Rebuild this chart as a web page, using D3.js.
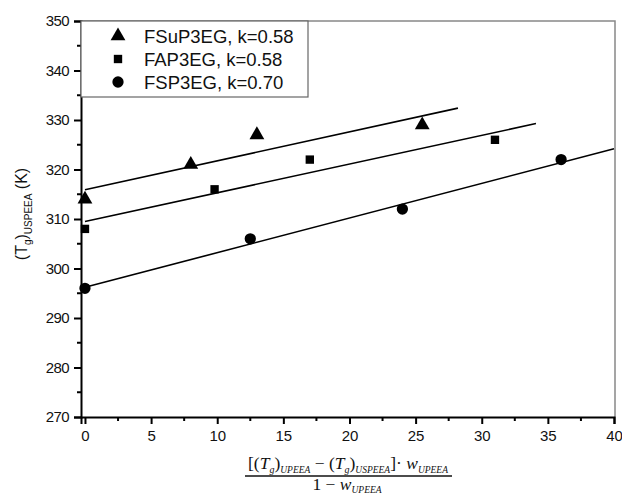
<!DOCTYPE html>
<html>
<head>
<meta charset="utf-8">
<script src="https://cdn.jsdelivr.net/npm/d3@7"></script>
<style>
  html, body { margin: 0; padding: 0; background: #fff; }
  svg { display: block; }
</style>
</head>
<body>
<svg id="chart" width="622" height="498"></svg>
<script>
// Glass transition temperature of the blend vs. the Gordon–Taylor composition term
const seriesNames = ["FSuP3EG, k=0.58", "FAP3EG, k=0.58", "FSP3EG, k=0.70"];
const seriesSymbols = ["triangle", "square", "circle"];

const fsupX = [0, 8, 13, 25.5];
const fsupY = [314, 321, 327, 329];
const fapX = [0, 9.8, 17, 31];
const fapY = [308, 316, 322, 326];
const fspX = [0, 12.5, 24, 36];
const fspY = [296, 306, 312, 322];

// fitted lines: intercept, slope (= k), x range
const fitIntercept = [315.9, 309.5, 296.2];
const fitSlope = [0.585, 0.58, 0.70];
const fitXEnd = [28.2, 34.1, 40];

const xTicks = [0, 5, 10, 15, 20, 25, 30, 35, 40];
const yTicks = [270, 280, 290, 300, 310, 320, 330, 340, 350];

const svg = d3.select("#chart");
const plotLeft = 81, plotRight = 614, plotTop = 21, plotBottom = 417;

const x = d3.scaleLinear().domain([-0.3, 40]).range([plotLeft, plotRight]);
const y = d3.scaleLinear().domain([270, 350]).range([plotBottom, plotTop]);

const font = "Arial, 'Liberation Sans', sans-serif";
const ink = "#111";

// frame (top and right edges in grey)
svg.append("path")
  .attr("d", `M${plotLeft},${plotTop}H${plotRight + 1}V${plotBottom}`)
  .attr("fill", "none").attr("stroke", "#888").attr("stroke-width", 1.5);

// axes
const xAxis = d3.axisBottom(x).tickValues(xTicks).tickSize(7).tickPadding(6).tickFormat(d3.format("d"));
const yAxis = d3.axisLeft(y).tickValues(yTicks).tickSize(7).tickPadding(5).tickFormat(d3.format("d"));

const gx = svg.append("g").attr("transform", `translate(0,${plotBottom})`).call(xAxis);
const gy = svg.append("g").attr("transform", `translate(${plotLeft},0)`).call(yAxis);

[gx, gy].forEach(g => {
  g.select(".domain").attr("stroke", "#000").attr("stroke-width", 2);
  g.selectAll(".tick line").attr("stroke", "#000").attr("stroke-width", 2);
  g.selectAll(".tick text").attr("font-family", font).attr("font-size", 15).attr("fill", ink);
});
gy.selectAll(".tick text").attr("letter-spacing", "-0.6px");

// minor ticks
const xMinor = d3.range(2.5, 40, 5);
const yMinor = d3.range(275, 350, 10);
svg.append("g").selectAll("line").data(xMinor).join("line")
  .attr("x1", d => x(d)).attr("x2", d => x(d))
  .attr("y1", plotBottom).attr("y2", plotBottom + 4)
  .attr("stroke", "#000").attr("stroke-width", 2);
svg.append("g").selectAll("line").data(yMinor).join("line")
  .attr("x1", plotLeft - 4).attr("x2", plotLeft)
  .attr("y1", d => y(d)).attr("y2", d => y(d))
  .attr("stroke", "#000").attr("stroke-width", 2);

// fitted lines
svg.append("g").selectAll("line").data(d3.range(3)).join("line")
  .attr("x1", x(0)).attr("y1", i => y(fitIntercept[i]))
  .attr("x2", i => x(fitXEnd[i])).attr("y2", i => y(fitIntercept[i] + fitSlope[i] * fitXEnd[i]))
  .attr("stroke", "#000").attr("stroke-width", 1.6);

// markers
const symType = { triangle: d3.symbolTriangle, square: d3.symbolSquare, circle: d3.symbolCircle };
const symSize = { triangle: 95, square: 70, circle: 100 };
const seriesData = [[fsupX, fsupY], [fapX, fapY], [fspX, fspY]];
seriesData.forEach(([xs, ys], i) => {
  const s = seriesSymbols[i];
  svg.append("g").selectAll("path").data(xs.map((v, j) => [v, ys[j]])).join("path")
    .attr("d", d3.symbol().type(symType[s]).size(symSize[s]))
    .attr("transform", d => `translate(${x(d[0])},${y(d[1])})`)
    .attr("fill", "#000");
});

// legend
const lg = svg.append("g");
lg.append("rect").attr("x", plotLeft).attr("y", plotTop).attr("width", 227).attr("height", 76)
  .attr("fill", "#fff").attr("stroke", "#666").attr("stroke-width", 1.2);
seriesNames.forEach((name, i) => {
  const cy = 36 + i * 23;
  const s = seriesSymbols[i];
  lg.append("path").attr("d", d3.symbol().type(symType[s]).size(symSize[s]))
    .attr("transform", `translate(118,${cy})`).attr("fill", "#000");
  lg.append("text").attr("x", 144).attr("y", cy + 6.5).text(name)
    .attr("font-family", font).attr("font-size", 18.5).attr("fill", ink);
});

// y-axis title
const yt = svg.append("text")
  .attr("transform", "translate(27,214) rotate(-90)")
  .attr("text-anchor", "middle")
  .attr("font-family", font).attr("font-size", 16).attr("fill", ink);
yt.append("tspan").text("(T");
yt.append("tspan").text("g").attr("font-size", 10).attr("dy", 4);
yt.append("tspan").text(")").attr("dy", -4);
yt.append("tspan").text("USPEEA").attr("font-size", 10).attr("dy", 5);
yt.append("tspan").text(" (K)").attr("dy", -5);

// x-axis title: fraction
const serif = "'Liberation Serif', 'DejaVu Serif', serif";
const num = svg.append("text").attr("x", 348).attr("y", 469).attr("text-anchor", "middle")
  .attr("font-family", serif).attr("font-size", 17.5).attr("fill", ink);
num.append("tspan").text("[(");
num.append("tspan").text("T").attr("font-style", "italic");
num.append("tspan").text("g").attr("font-style", "italic").attr("font-size", 10).attr("dy", 4);
num.append("tspan").text(")").attr("dy", -4);
num.append("tspan").text("UPEEA").attr("font-style", "italic").attr("font-size", 9.5).attr("dy", 4);
num.append("tspan").text(" − (").attr("dy", -4);
num.append("tspan").text("T").attr("font-style", "italic");
num.append("tspan").text("g").attr("font-style", "italic").attr("font-size", 10).attr("dy", 4);
num.append("tspan").text(")").attr("dy", -4);
num.append("tspan").text("USPEEA").attr("font-style", "italic").attr("font-size", 9.5).attr("dy", 4);
num.append("tspan").text("]· ").attr("dy", -4);
num.append("tspan").text("w").attr("font-style", "italic");
num.append("tspan").text("UPEEA").attr("font-style", "italic").attr("font-size", 9.5).attr("dy", 4);

svg.append("line").attr("x1", 245).attr("x2", 452).attr("y1", 476).attr("y2", 476)
  .attr("stroke", ink).attr("stroke-width", 1.3);

const den = svg.append("text").attr("x", 347).attr("y", 490).attr("text-anchor", "middle")
  .attr("font-family", serif).attr("font-size", 17.5).attr("fill", ink);
den.append("tspan").text("1 − ");
den.append("tspan").text("w").attr("font-style", "italic");
den.append("tspan").text("UPEEA").attr("font-style", "italic").attr("font-size", 9.5).attr("dy", 3);
</script>
</body>
</html>
